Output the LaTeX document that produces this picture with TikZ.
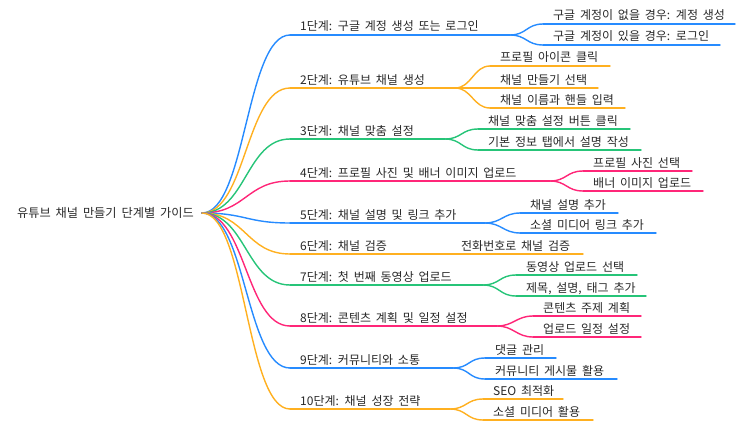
\documentclass[tikz,border=0pt]{standalone}
\usepackage{fontspec}
\setmainfont{Noto Sans CJK KR}
\definecolor{mblue}{RGB}{38,139,255}
\definecolor{morange}{RGB}{255,176,32}
\definecolor{mgreen}{RGB}{38,196,120}
\definecolor{mpink}{RGB}{255,38,120}
\definecolor{mtext}{RGB}{40,40,40}
\newcommand{\mmfont}{\fontsize{12}{14}\selectfont\spaceskip 0.4em\relax}
\newcommand{\mmrootfont}{\fontsize{12.2}{15}\selectfont\spaceskip 0.4em\relax}
\tikzset{
  txt/.style={inner sep=0pt, text=mtext, font=\mmfont},
  roottxt/.style={inner sep=0pt, text=mtext, font=\mmrootfont},
  ln/.style={line width=1.4pt, line cap=round},
}
% name, colour, text x, line y, line end, text
\newcommand{\mmnode}[6]{%
  \coordinate (#1L) at (#3-10,#4);
  \coordinate (#1R) at (#5,#4);
  \node[txt,anchor=base west] (#1) at (#3,#4-4) {#6};
  \draw[#2,ln] (#1L) -- (#1R);
}
\newcommand{\mmlink}[4]{% colour, from, to, half dx
  \draw[#1,ln] (#2) .. controls +(#4,0) and +(-#4,0) .. (#3);
}
\begin{document}
\begin{tikzpicture}[x=1pt,y=-1pt]
\useasboundingbox (0,0) rectangle (743,428);
\node[roottxt,anchor=east] (root) at (194,213) {유튜브 채널 만들기 단계별 가이드};
\coordinate (rootR) at (202,213);

% level 1
\mmnode{s1}{mblue}{300}{35}{510}{1단계: 구글 계정 생성 또는 로그인}
\mmnode{s2}{morange}{300}{88}{455}{2단계: 유튜브 채널 생성}
\mmnode{s3}{mgreen}{300}{139}{445}{3단계: 채널 맞춤 설정}
\mmnode{s4}{mpink}{300}{181}{550}{4단계: 프로필 사진 및 배너 이미지 업로드}
\mmnode{s5}{mblue}{300}{223}{485}{5단계: 채널 설명 및 링크 추가}
\mmnode{s6}{morange}{300}{254}{451}{6단계: 채널 검증}
\mmnode{s7}{mgreen}{300}{285}{483}{7단계: 첫 번째 동영상 업로드}
\mmnode{s8}{mpink}{300}{326}{497}{8단계: 콘텐츠 계획 및 일정 설정}
\mmnode{s9}{mblue}{300}{368}{453}{9단계: 커뮤니티와 소통}
\mmnode{s10}{morange}{300}{409}{450}{10단계: 채널 성장 전략}

\mmlink{mblue}{rootR}{s1L}{44}
\mmlink{morange}{rootR}{s2L}{44}
\mmlink{mgreen}{rootR}{s3L}{44}
\mmlink{mpink}{rootR}{s4L}{44}
\mmlink{mblue}{rootR}{s5L}{44}
\mmlink{morange}{rootR}{s6L}{44}
\mmlink{mgreen}{rootR}{s7L}{44}
\mmlink{mpink}{rootR}{s8L}{44}
\mmlink{mblue}{rootR}{s9L}{44}
\mmlink{morange}{rootR}{s10L}{44}

% level 2
\mmnode{a1}{mblue}{553}{24}{735}{구글 계정이 없을 경우: 계정 생성}
\mmnode{b1}{mblue}{553}{45}{720}{구글 계정이 있을 경우: 로그인}
\mmnode{a2}{morange}{500}{66}{610}{프로필 아이콘 클릭}
\mmnode{b2}{morange}{500}{88}{598}{채널 만들기 선택}
\mmnode{c2}{morange}{500}{108}{625}{채널 이름과 핸들 입력}
\mmnode{a3}{mgreen}{488}{129}{630}{채널 맞춤 설정 버튼 클릭}
\mmnode{b3}{mgreen}{488}{150}{641}{기본 정보 탭에서 설명 작성}
\mmnode{a4}{mpink}{593}{171}{692}{프로필 사진 선택}
\mmnode{b4}{mpink}{593}{191}{703}{배너 이미지 업로드}
\mmnode{a5}{mblue}{530}{213}{618}{채널 설명 추가}
\mmnode{b5}{mblue}{530}{233}{656}{소셜 미디어 링크 추가}
\mmnode{a6}{morange}{461}{254}{583}{전화번호로 채널 검증}
\mmnode{a7}{mgreen}{526}{275}{637}{동영상 업로드 선택}
\mmnode{b7}{mgreen}{526}{296}{646}{제목, 설명, 태그 추가}
\mmnode{a8}{mpink}{543}{316}{641}{콘텐츠 주제 계획}
\mmnode{b8}{mpink}{543}{337}{641}{업로드 일정 설정}
\mmnode{a9}{mblue}{495}{358}{556}{댓글 관리}
\mmnode{b9}{mblue}{495}{379}{617}{커뮤니티 게시물 활용}
\mmnode{a10}{morange}{493}{399}{563}{SEO 최적화}
\mmnode{b10}{morange}{493}{420}{593}{소셜 미디어 활용}

\mmlink{mblue}{s1R}{a1L}{16.5}
\mmlink{mblue}{s1R}{b1L}{16.5}
\mmlink{morange}{s2R}{a2L}{16.5}
\mmlink{morange}{s2R}{b2L}{16.5}
\mmlink{morange}{s2R}{c2L}{16.5}
\mmlink{mgreen}{s3R}{a3L}{16.5}
\mmlink{mgreen}{s3R}{b3L}{16.5}
\mmlink{mpink}{s4R}{a4L}{16.5}
\mmlink{mpink}{s4R}{b4L}{16.5}
\mmlink{mblue}{s5R}{a5L}{16.5}
\mmlink{mblue}{s5R}{b5L}{16.5}
\draw[morange,ln] (s6R) -- (a6L);
\mmlink{mgreen}{s7R}{a7L}{16.5}
\mmlink{mgreen}{s7R}{b7L}{16.5}
\mmlink{mpink}{s8R}{a8L}{16.5}
\mmlink{mpink}{s8R}{b8L}{16.5}
\mmlink{mblue}{s9R}{a9L}{16.5}
\mmlink{mblue}{s9R}{b9L}{16.5}
\mmlink{morange}{s10R}{a10L}{16.5}
\mmlink{morange}{s10R}{b10L}{16.5}
\end{tikzpicture}
\end{document}
